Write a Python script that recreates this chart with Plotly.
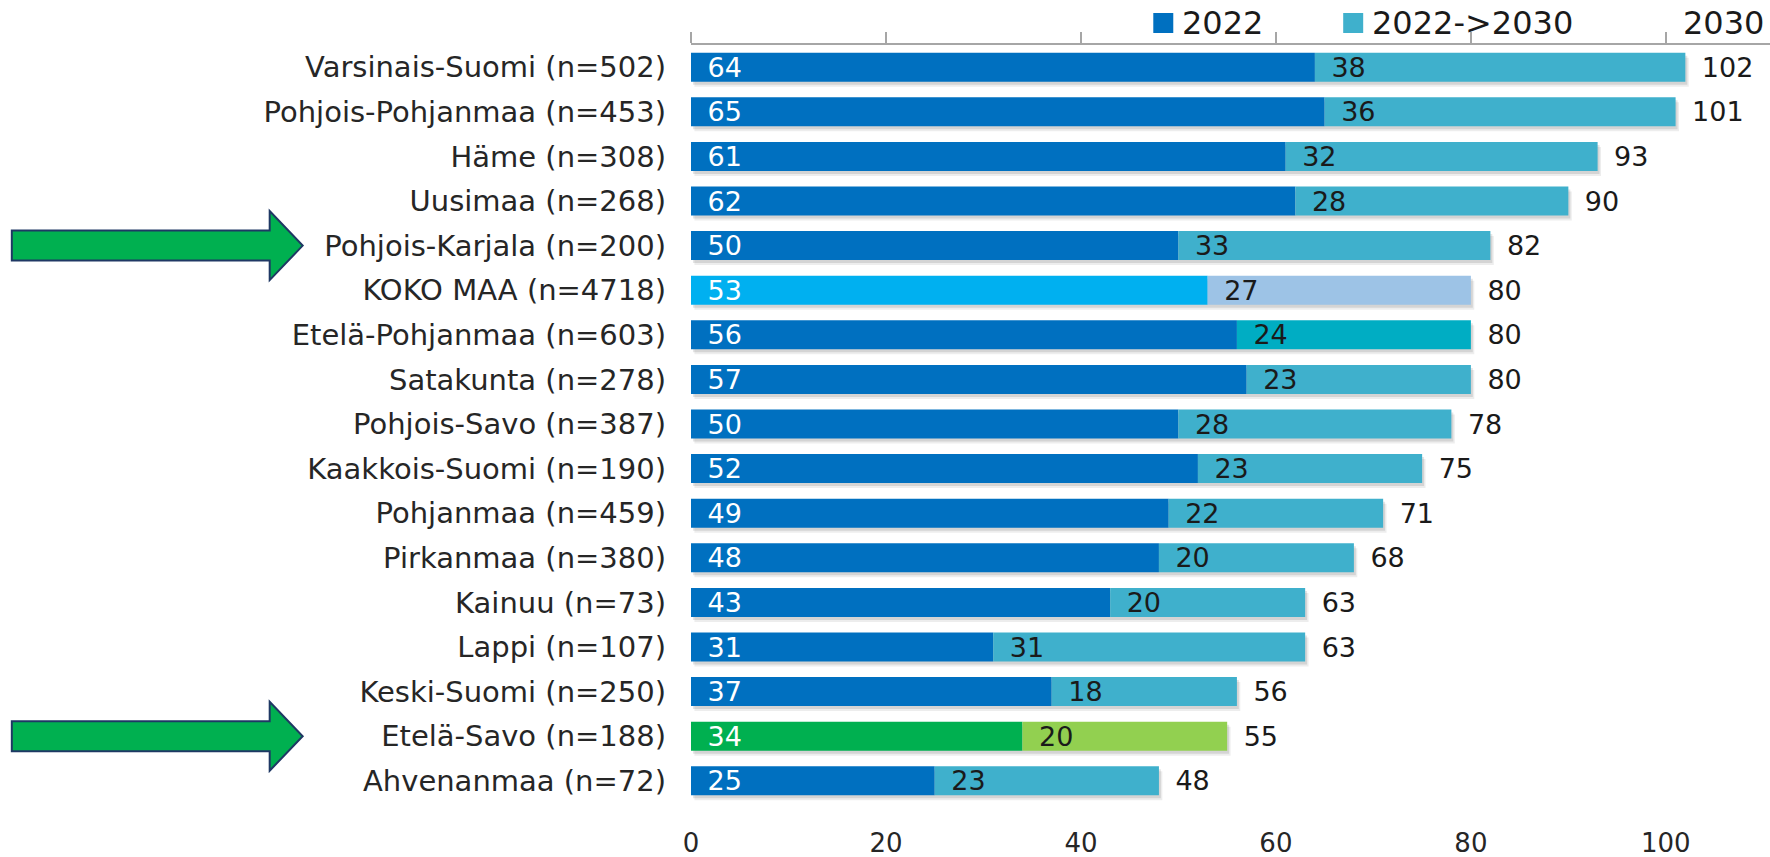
import plotly.graph_objects as go

# ---- data ----
regions = ["Varsinais-Suomi (n=502)", "Pohjois-Pohjanmaa (n=453)", "Häme (n=308)",
           "Uusimaa (n=268)", "Pohjois-Karjala (n=200)", "KOKO MAA (n=4718)",
           "Etelä-Pohjanmaa (n=603)", "Satakunta (n=278)", "Pohjois-Savo (n=387)",
           "Kaakkois-Suomi (n=190)", "Pohjanmaa (n=459)", "Pirkanmaa (n=380)",
           "Kainuu (n=73)", "Lappi (n=107)", "Keski-Suomi (n=250)",
           "Etelä-Savo (n=188)", "Ahvenanmaa (n=72)"]
v2022 = [64, 65, 61, 62, 50, 53, 56, 57, 50, 52, 49, 48, 43, 31, 37, 34, 25]
v_change = [38, 36, 32, 28, 33, 27, 24, 23, 28, 23, 22, 20, 20, 31, 18, 20, 23]
v2030 = [102, 101, 93, 90, 82, 80, 80, 80, 78, 75, 71, 68, 63, 63, 56, 55, 48]
x_ticks = [0, 20, 40, 60, 80, 100]
legend_names = ["2022", "2022->2030"]
total_header = "2030"
highlighted = ["Pohjois-Karjala (n=200)", "Etelä-Savo (n=188)"]

# ---- styles ----
FONT = "DejaVu Sans"
C1, C2 = "#0070C0", "#3FB0CC"
special1 = {"KOKO MAA (n=4718)": "#00B0F0", "Etelä-Savo (n=188)": "#00B050"}
special2 = {"KOKO MAA (n=4718)": "#9DC3E6", "Etelä-Pohjanmaa (n=603)": "#00ADC3",
            "Etelä-Savo (n=188)": "#92D050"}
col1 = [special1.get(r, C1) for r in regions]
col2 = [special2.get(r, C2) for r in regions]

W, H = 1770, 857
L, R, T, B = 690.5, 1770, 45, 815
PW, PH = R - L, B - T
XMAX = (R - L) / 9.753
ROW = 44.6
BARW = 0.65
ytop = -(67.2 - T) / ROW
ybot = ytop + PH / ROW

def px(xp):
    return (xp - L) / PW

def py(yp):
    return (B - yp) / PH

idx = list(range(len(regions)))
seg2 = [t - a for t, a in zip(v2030, v2022)]

fig = go.Figure()
# soft drop shadow under the bars
for dy, dx, a in [(5 / ROW, 0.35, 0.07), (3 / ROW, 0.2, 0.10)]:
    fig.add_trace(go.Bar(
        y=idx, x=v2030, orientation="h", width=BARW, offset=-BARW / 2 + dy,
        base=[dx] * len(idx), marker=dict(color=f"rgba(0,0,0,{a})", line=dict(width=0)),
        showlegend=False, hoverinfo="skip"))
fig.add_trace(go.Bar(
    y=idx, x=v2022, orientation="h", name=legend_names[0],
    marker=dict(color=col1, line=dict(width=0)), width=BARW,
    texttemplate="\u2002%{x}", textposition="inside", insidetextanchor="start",
    textfont=dict(family=FONT, size=27, color="white"), showlegend=False))
fig.add_trace(go.Bar(
    y=idx, x=seg2, base=v2022, orientation="h", name=legend_names[1], text=v_change,
    marker=dict(color=col2, line=dict(width=0)), width=BARW,
    texttemplate="\u2002%{text}", textposition="inside", insidetextanchor="start",
    textfont=dict(family=FONT, size=27, color="#1a1a1a"), showlegend=False))
# totals (2030) written just past the end of each bar
fig.add_trace(go.Bar(
    y=idx, x=v2030, orientation="h", name=total_header, text=v2030, xaxis="x2",
    marker=dict(color="rgba(0,0,0,0)", line=dict(width=0)), width=BARW,
    texttemplate="\u2002%{text}", textposition="outside", cliponaxis=False,
    textfont=dict(family=FONT, size=27, color="#1a1a1a"), showlegend=False,
    hoverinfo="skip"))

shapes = []
# arrows
for name in highlighted:
    yc = regions.index(name)
    hb, hh = 15 / ROW, 34.5 / ROW
    x0, x1, x2 = px(11), px(269), px(302)
    path = (f"M {x0},{yc - hb} L {x1},{yc - hb} L {x1},{yc - hh} L {x2},{yc} "
            f"L {x1},{yc + hh} L {x1},{yc + hb} L {x0},{yc + hb} Z")
    shapes.append(dict(type="path", xref="paper", yref="y", path=path,
                       fillcolor="#00B050", line=dict(color="#1F3864", width=2)))

# legend boxes
annotations = []
for (bx0, bx1, tx), name, c in zip([(1153, 1173, 1180), (1343, 1363, 1370)], legend_names, [C1, C2]):
    shapes.append(dict(type="rect", xref="paper", yref="paper",
                       x0=px(bx0), x1=px(bx1), y0=py(33), y1=py(13),
                       fillcolor=c, line=dict(width=0)))
    annotations.append(dict(xref="paper", yref="paper", x=px(tx), y=py(23),
                            xanchor="left", yanchor="middle", text=name, showarrow=False,
                            font=dict(family=FONT, size=32, color="#1a1a1a")))
annotations.append(dict(xref="paper", yref="paper", x=px(1766), y=py(23),
                        xanchor="right", yanchor="middle", text=total_header, showarrow=False,
                        font=dict(family=FONT, size=32, color="#1a1a1a")))

fig.update_layout(
    width=W, height=H, barmode="overlay",
    margin=dict(l=L, r=W - R, t=T, b=H - B, autoexpand=False),
    paper_bgcolor="white", plot_bgcolor="white",
    uniformtext=dict(minsize=27, mode="show"),
    shapes=shapes, annotations=annotations,
    xaxis=dict(range=[0, XMAX], tickvals=x_ticks, showgrid=False, zeroline=False,
               showline=False, ticks="", ticklabelstandoff=10,
               tickfont=dict(family=FONT, size=26, color="#262626")),
    xaxis2=dict(overlaying="x", side="top", matches="x", range=[0, XMAX], tickvals=x_ticks,
                showgrid=False, zeroline=False, showline=True, linecolor="#A6A6A6",
                linewidth=1.5, ticks="outside", ticklen=11, tickcolor="#A6A6A6",
                tickwidth=1.5, showticklabels=False),
    yaxis=dict(range=[ybot, ytop], tickvals=idx, ticktext=regions, showgrid=False,
               zeroline=False, showline=False, ticks="", ticklabelstandoff=24,
               tickfont=dict(family=FONT, size=29, color="#262626")),
)

fig.write_html("out.html", config={"displayModeBar": False},
               post_script="document.body.style.margin='0';")
